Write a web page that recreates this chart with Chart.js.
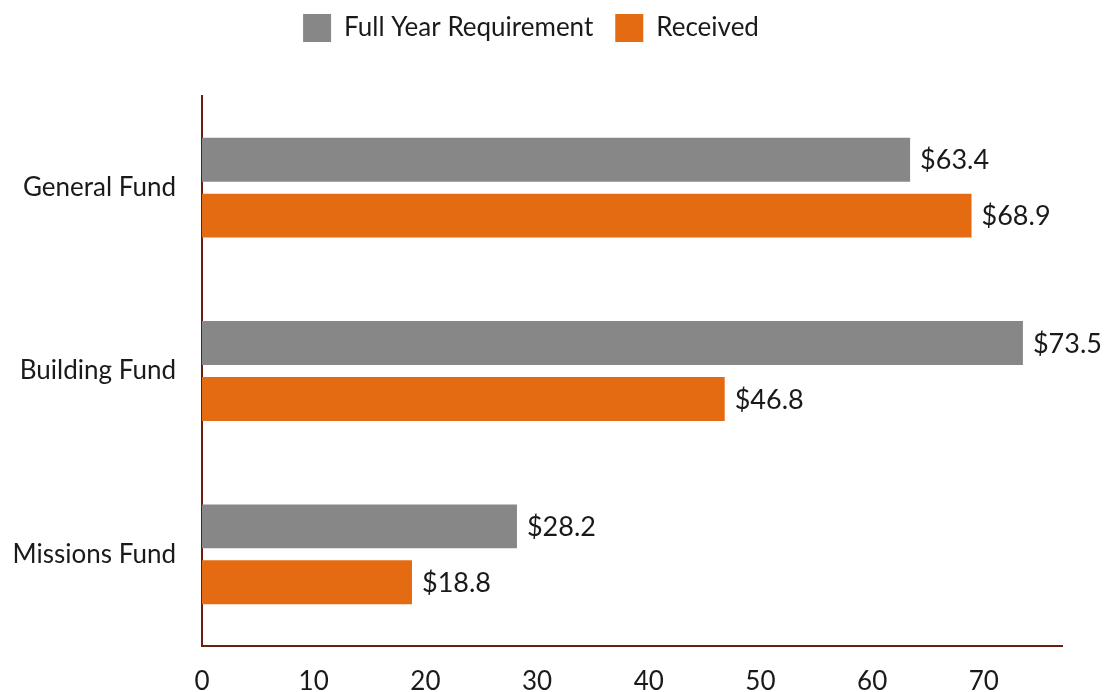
<!DOCTYPE html>
<html>
<head>
<meta charset="utf-8">
<script src="https://cdn.jsdelivr.net/npm/chart.js@4.4.0/dist/chart.umd.min.js"></script>
<style>
  html, body { margin: 0; padding: 0; background: #fff; }
  #wrap { width: 1115px; height: 692px; position: relative; }
</style>
</head>
<body>
<div id="wrap"><canvas id="fundsChart"></canvas></div>
<script>
// Chart data
const funds = ['General Fund', 'Building Fund', 'Missions Fund'];
const requirement = [63.4, 73.5, 28.2];
const received = [68.9, 46.8, 18.8];
const xTicks = [0, 10, 20, 30, 40, 50, 60, 70];

const axisColor = '#6b1d10';
const textColor = '#1a1a1a';

// Draws "$value" to the right of each bar
const valueLabels = {
    id: 'valueLabels',
    afterDatasetsDraw(chart) {
        const ctx = chart.ctx;
        ctx.save();
        ctx.font = '27px Lato';
        ctx.fillStyle = textColor;
        ctx.textBaseline = 'middle';
        ctx.textAlign = 'left';
        chart.data.datasets.forEach((ds, i) => {
            chart.getDatasetMeta(i).data.forEach((bar, j) => {
                ctx.fillText('$' + ds.data[j].toFixed(1), bar.x + 10, bar.y + 1);
            });
        });
        ctx.restore();
    }
};

// Extra space below the legend
const legendGap = {
    id: 'legendGap',
    beforeInit(chart) {
        const fit = chart.legend.fit;
        chart.legend.fit = function() {
            fit.bind(chart.legend)();
            this.height += 44;
        };
    }
};

document.addEventListener('DOMContentLoaded', function() {
    new Chart(document.getElementById('fundsChart'), {
        type: 'bar',
        data: {
            labels: funds,
            datasets: [{
                label: 'Full Year Requirement',
                data: requirement,
                backgroundColor: '#878787'
            }, {
                label: 'Received',
                data: received,
                backgroundColor: '#e56b12'
            }]
        },
        options: {
            indexAxis: 'y',
            responsive: true,
            maintainAspectRatio: false,
            animation: false,
            categoryPercentage: 0.61,
            barPercentage: 0.786,
            layout: { padding: { top: -8, right: 53, left: 0, bottom: 0 } },
            plugins: {
                legend: {
                    position: 'top',
                    labels: {
                        font: { family: 'Lato', size: 26 },
                        color: textColor,
                        boxWidth: 28,
                        boxHeight: 28,
                        padding: 22
                    }
                },
                tooltip: { enabled: false }
            },
            scales: {
                x: {
                    min: 0,
                    max: 77,
                    grid: { display: false, drawTicks: false },
                    border: { color: axisColor, width: 2 },
                    ticks: {
                        stepSize: 10,
                        padding: 20,
                        color: textColor,
                        font: { family: 'Lato', size: 26 }
                    },
                    afterBuildTicks(axis) {
                        axis.ticks = xTicks.map(v => ({ value: v }));
                    },
                    afterFit(axis) { axis.height = 46; }
                },
                y: {
                    grid: { display: false, drawTicks: false },
                    border: { color: axisColor, width: 2 },
                    ticks: {
                        padding: 26,
                        color: textColor,
                        font: { family: 'Lato', size: 26 }
                    },
                    afterFit(axis) { axis.width = 202; }
                }
            }
        },
        plugins: [valueLabels, legendGap]
    });
});
</script>
</body>
</html>
